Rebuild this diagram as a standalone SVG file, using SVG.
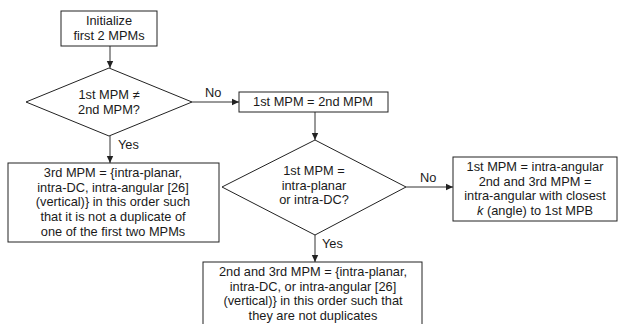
<svg xmlns="http://www.w3.org/2000/svg" width="620" height="324" viewBox="0 0 620 324">
<defs>
<style>
.s{fill:#fff;stroke:#222;stroke-width:1}
.t{font-family:"Liberation Sans",Arial,sans-serif;font-size:12.8px;fill:#1a1a1a;text-anchor:middle}
.l{font-family:"Liberation Sans",Arial,sans-serif;font-size:12.8px;fill:#1a1a1a}
.c{stroke:#333;stroke-width:1;fill:none;marker-end:url(#a)}
</style>
<marker id="a" markerWidth="8" markerHeight="8" refX="7" refY="4" orient="auto" markerUnits="userSpaceOnUse">
<path d="M0,0.8 L7,4 L0,7.2 Z" fill="#222"/>
</marker>
</defs>
<rect width="620" height="324" fill="#fff"/>
<g id="connectors">
<line class="c" x1="110" y1="46" x2="110" y2="68"/>
<line class="c" x1="192" y1="102" x2="239" y2="102"/>
<line class="c" x1="110" y1="136" x2="110" y2="163"/>
<line class="c" x1="315" y1="112" x2="315" y2="140"/>
<line class="c" x1="406" y1="187" x2="453" y2="187"/>
<line class="c" x1="315" y1="235" x2="315" y2="262"/>
<text class="l" x="205" y="97">No</text>
<text class="l" x="118" y="149">Yes</text>
<text class="l" x="420" y="182">No</text>
<text class="l" x="322" y="248">Yes</text>
</g>
<g id="init">
<rect class="s" x="61" y="11" width="96" height="35"/>
<text class="t" x="109" y="25">Initialize</text>
<text class="t" x="109" y="40">first 2 MPMs</text>
</g>
<g id="d1">
<polygon class="s" points="109,68 192,102 109,136 26,102"/>
<text class="t" x="109" y="99">1st MPM ≠</text>
<text class="t" x="109" y="114">2nd MPM?</text>
</g>
<g id="third">
<rect class="s" x="8" y="163" width="211" height="79"/>
<text class="t" x="113" y="177">3rd MPM = {intra-planar,</text>
<text class="t" x="113" y="191.7">intra-DC, intra-angular [26]</text>
<text class="t" x="113" y="206.4">(vertical)} in this order such</text>
<text class="t" x="113" y="221.1">that it is not a duplicate of</text>
<text class="t" x="113" y="235.8">one of the first two MPMs</text>
</g>
<g id="eq">
<rect class="s" x="239" y="92" width="149" height="20"/>
<text class="t" x="313" y="106">1st MPM = 2nd MPM</text>
</g>
<g id="d2">
<polygon class="s" points="315,140 406,187 315,235 222,187"/>
<text class="t" x="314" y="175">1st MPM =</text>
<text class="t" x="314" y="189.7">intra-planar</text>
<text class="t" x="314" y="204.4">or intra-DC?</text>
</g>
<g id="angular">
<rect class="s" x="453" y="157" width="164" height="64"/>
<text class="t" x="535" y="171">1st MPM = intra-angular</text>
<text class="t" x="535" y="185.7">2nd and 3rd MPM =</text>
<text class="t" x="535" y="200.4">intra-angular with closest</text>
<text class="t" x="535" y="215.1"><tspan font-style="italic">k</tspan> (angle) to 1st MPB</text>
</g>
<g id="bottom">
<rect class="s" x="203" y="262" width="219" height="70"/>
<text class="t" x="313" y="276">2nd and 3rd MPM = {intra-planar,</text>
<text class="t" x="313" y="290.7">intra-DC, or intra-angular [26]</text>
<text class="t" x="313" y="305.4">(vertical)} in this order such that</text>
<text class="t" x="313" y="320.1">they are not duplicates</text>
</g>
</svg>
